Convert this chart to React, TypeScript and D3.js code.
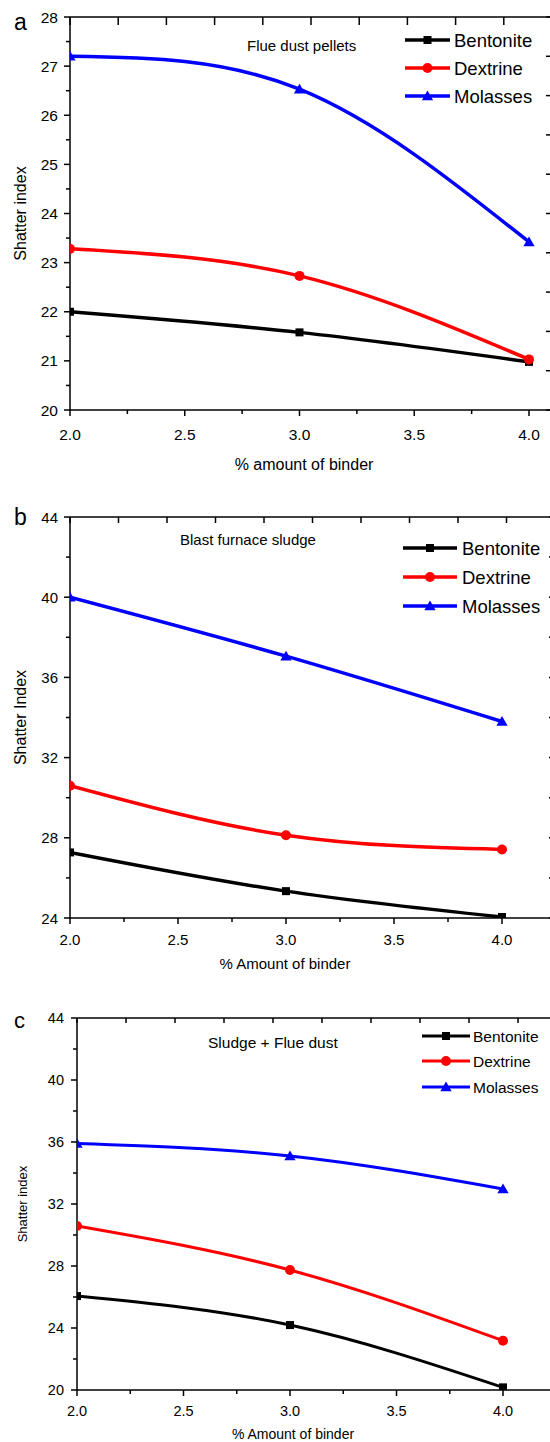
import React from "react";
import * as d3 from "d3";

// ---------- data ----------
const binder = [2.0, 3.0, 4.0];
const seriesNames = ["Bentonite", "Dextrine", "Molasses"];
const seriesColors = ["#000000", "#ff0000", "#0000ff"];
const seriesMarkers = ["square", "circle", "triangle"];

const flueBentonite = [22.0, 21.58, 20.98];
const flueDextrine = [23.28, 22.73, 21.03];
const flueMolasses = [27.2, 26.53, 23.42];

const sludgeBentonite = [27.27, 25.34, 24.05];
const sludgeDextrine = [30.6, 28.13, 27.42];
const sludgeMolasses = [40.0, 37.06, 33.8];

const mixBentonite = [26.06, 24.19, 20.17];
const mixDextrine = [30.58, 27.74, 23.18];
const mixMolasses = [35.9, 35.1, 32.97];

const xTicks = [2.0, 2.5, 3.0, 3.5, 4.0];
const xMinorTicks = [2.25, 2.75, 3.25, 3.75];
const flueYTicks = [20, 21, 22, 23, 24, 25, 26, 27, 28];
const flueYMinor = [20.5, 21.5, 22.5, 23.5, 24.5, 25.5, 26.5, 27.5];
const sludgeYTicks = [24, 28, 32, 36, 40, 44];
const sludgeYMinor = [26, 30, 34, 38, 42];
const mixYTicks = [20, 24, 28, 32, 36, 40, 44];
const mixYMinor = [22, 26, 30, 34, 38, 42];

const FONT = "'Liberation Sans', Arial, Helvetica, sans-serif";

type Cfg = {
  id: string;
  letter: string;
  title: string;
  yLabel: string;
  xLabel: string;
  series: number[][];
  yTicks: number[];
  yMinor: number[];
  left: number; x4: number; right: number; top: number; bottom: number;
  letterX: number; letterY: number; letterSize: number;
  tickSize: number; tickLabelGap: number; xTickLabelY: number;
  xLabelX: number; xLabelY: number; xLabelSize: number;
  yLabelX: number; yLabelSize: number;
  titleX: number; titleY: number; titleSize: number;
  legX1: number; legX2: number; legTextX: number; legY: number[]; legSize: number;
  lineW: number; topTickLen: number;
};

const panels: Cfg[] = [
  {
    id: "a", letter: "a", title: "Flue dust pellets", yLabel: "Shatter index", xLabel: "% amount of binder",
    series: [flueBentonite, flueDextrine, flueMolasses], yTicks: flueYTicks, yMinor: flueYMinor,
    left: 70, x4: 529, right: 552, top: 17, bottom: 410,
    letterX: 14, letterY: 22, letterSize: 23,
    tickSize: 15.5, tickLabelGap: 12, xTickLabelY: 434,
    xLabelX: 304, xLabelY: 464, xLabelSize: 16,
    yLabelX: 20, yLabelSize: 16,
    titleX: 247, titleY: 45, titleSize: 15,
    legX1: 405, legX2: 450, legTextX: 454, legY: [40, 68, 96], legSize: 18.5,
    lineW: 3.5, topTickLen: 8,
  },
  {
    id: "b", letter: "b", title: "Blast furnace sludge", yLabel: "Shatter Index", xLabel: "% Amount of binder",
    series: [sludgeBentonite, sludgeDextrine, sludgeMolasses], yTicks: sludgeYTicks, yMinor: sludgeYMinor,
    left: 70, x4: 502, right: 555, top: 517, bottom: 918,
    letterX: 14, letterY: 517, letterSize: 23,
    tickSize: 15, tickLabelGap: 12, xTickLabelY: 939,
    xLabelX: 285, xLabelY: 963, xLabelSize: 15,
    yLabelX: 20, yLabelSize: 16,
    titleX: 180, titleY: 539, titleSize: 15,
    legX1: 403, legX2: 457, legTextX: 462, legY: [548, 577, 606], legSize: 18.5,
    lineW: 3.5, topTickLen: 6,
  },
  {
    id: "c", letter: "c", title: "Sludge + Flue dust", yLabel: "Shatter index", xLabel: "% Amount of binder",
    series: [mixBentonite, mixDextrine, mixMolasses], yTicks: mixYTicks, yMinor: mixYMinor,
    left: 77, x4: 503, right: 567, top: 1018, bottom: 1390,
    letterX: 14, letterY: 1020, letterSize: 22,
    tickSize: 14.5, tickLabelGap: 13, xTickLabelY: 1411,
    xLabelX: 293, xLabelY: 1434, xLabelSize: 14,
    yLabelX: 22, yLabelSize: 13,
    titleX: 208, titleY: 1042, titleSize: 15.5,
    legX1: 422, legX2: 470, legTextX: 473, legY: [1036, 1061, 1087], legSize: 15.5,
    lineW: 3, topTickLen: 5,
  },
];

function Marker({ kind, x, y, color }: { kind: string; x: number; y: number; color: string }) {
  if (kind === "square") return <rect x={x - 4} y={y - 4} width={8} height={8} fill={color} />;
  if (kind === "circle") return <circle cx={x} cy={y} r={5} fill={color} />;
  const tri = d3.symbol().type(d3.symbolTriangle).size(55)();
  return <path d={tri || ""} transform={`translate(${x},${y + 1})`} fill={color} />;
}

function Panel({ c }: { c: Cfg }) {
  const x = d3.scaleLinear().domain([2, 4]).range([c.left, c.x4]);
  const yMin = c.yTicks[0];
  const yMax = c.yTicks[c.yTicks.length - 1];
  const y = d3.scaleLinear().domain([yMin, yMax]).range([c.bottom, c.top]);
  const frameTicks = d3.range(11);
  const topScale = d3.scaleLinear().domain([0, 10]).range([c.left, c.right]);
  const rightScale = d3.scaleLinear().domain([0, 10]).range([c.bottom, c.top]);
  const line = d3
    .line<number>()
    .x((_, i) => x(binder[i]))
    .y((d) => y(d))
    .curve(d3.curveNatural);
  const clipId = `clip-${c.id}`;
  return (
    <g fontFamily={FONT}>
      <defs>
        <clipPath id={clipId}>
          <rect x={c.left} y={c.top} width={c.right - c.left} height={c.bottom - c.top} />
        </clipPath>
      </defs>
      {/* frame */}
      <g stroke="#000" strokeWidth={1.5} fill="none">
        <line x1={c.left} x2={c.right} y1={c.bottom} y2={c.bottom} />
        <line x1={c.left} x2={c.right} y1={c.top} y2={c.top} />
        <line x1={c.left} x2={c.left} y1={c.top} y2={c.bottom} />
        <line x1={c.right} x2={c.right} y1={c.top} y2={c.bottom} />
        {frameTicks.map((t) => (
          <line key={"tt" + t} x1={topScale(t)} x2={topScale(t)} y1={c.top} y2={c.top + c.topTickLen} />
        ))}
        {frameTicks.map((t) => (
          <line key={"rt" + t} x1={c.right} x2={c.right - 6} y1={rightScale(t)} y2={rightScale(t)} />
        ))}
        {xTicks.map((t) => (
          <line key={"xt" + t} x1={x(t)} x2={x(t)} y1={c.bottom} y2={c.bottom + 6} />
        ))}
        {xMinorTicks.map((t) => (
          <line key={"xm" + t} x1={x(t)} x2={x(t)} y1={c.bottom} y2={c.bottom + 4} />
        ))}
        {c.yTicks.map((t) => (
          <line key={"yt" + t} x1={c.left - 6} x2={c.left} y1={y(t)} y2={y(t)} />
        ))}
        {c.yMinor.map((t) => (
          <line key={"ym" + t} x1={c.left - 4} x2={c.left} y1={y(t)} y2={y(t)} />
        ))}
      </g>
      {/* tick labels */}
      <g fontSize={c.tickSize} fill="#000">
        {xTicks.map((t) => (
          <text key={"xl" + t} x={x(t)} y={c.xTickLabelY} textAnchor="middle" dominantBaseline="central">
            {d3.format(".1f")(t)}
          </text>
        ))}
        {c.yTicks.map((t) => (
          <text key={"yl" + t} x={c.left - c.tickLabelGap} y={y(t)} textAnchor="end" dominantBaseline="central">
            {t}
          </text>
        ))}
      </g>
      <text x={c.xLabelX} y={c.xLabelY} fontSize={c.xLabelSize} textAnchor="middle" dominantBaseline="central">
        {c.xLabel}
      </text>
      <text
        transform={`translate(${c.yLabelX},${(c.top + c.bottom) / 2}) rotate(-90)`}
        fontSize={c.yLabelSize}
        textAnchor="middle"
        dominantBaseline="central"
      >
        {c.yLabel}
      </text>
      <text x={c.letterX} y={c.letterY} fontSize={c.letterSize} dominantBaseline="central">
        {c.letter}
      </text>
      <text x={c.titleX} y={c.titleY} fontSize={c.titleSize} dominantBaseline="central">
        {c.title}
      </text>
      {/* series */}
      <g clipPath={`url(#${clipId})`}>
        {c.series.map((s, si) => (
          <g key={si}>
            <path d={line(s) || ""} fill="none" stroke={seriesColors[si]} strokeWidth={c.lineW} />
            {s.map((v, i) => (
              <Marker key={i} kind={seriesMarkers[si]} x={x(binder[i])} y={y(v)} color={seriesColors[si]} />
            ))}
          </g>
        ))}
      </g>
      {/* legend */}
      {seriesNames.map((n, si) => (
        <g key={n}>
          <line x1={c.legX1} x2={c.legX2} y1={c.legY[si]} y2={c.legY[si]} stroke={seriesColors[si]} strokeWidth={c.lineW} />
          <Marker kind={seriesMarkers[si]} x={(c.legX1 + c.legX2) / 2} y={c.legY[si]} color={seriesColors[si]} />
          <text x={c.legTextX} y={c.legY[si]} fontSize={c.legSize} dominantBaseline="central">
            {n}
          </text>
        </g>
      ))}
    </g>
  );
}

export default function App() {
  return (
    <svg width={550} height={1442} style={{ position: "absolute", left: 0, top: 0, background: "#fff" }}>
      <rect width={550} height={1442} fill="#fff" />
      {panels.map((p) => (
        <Panel key={p.id} c={p} />
      ))}
    </svg>
  );
}
